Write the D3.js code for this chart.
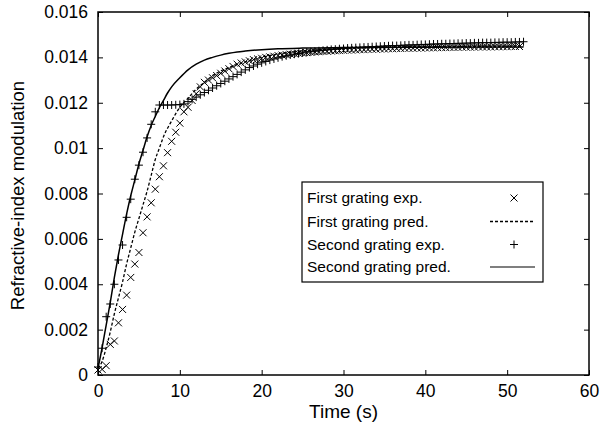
<!DOCTYPE html>
<html lang="en">
<head>
  <meta charset="UTF-8">
  <title>Refractive-index modulation vs time</title>
  <script src="https://d3js.org/d3.v7.min.js"></script>
  <style>
    body { margin: 0; background: #fff; font-family: "Liberation Sans", Arial, sans-serif; }
    svg text { fill: #000; }
  </style>
</head>
<body>
  <svg width="602" height="427"></svg>
  <script>
    // x tick values and y tick labels, as printed on the chart
    const xTicks = [0, 10, 20, 30, 40, 50, 60];
    const yTicks = [0, 0.002, 0.004, 0.006, 0.008, 0.01, 0.012, 0.014, 0.016];
    const yTickLabels = ["0", "0.002", "0.004", "0.006", "0.008", "0.01", "0.012", "0.014", "0.016"];

    // measurements are taken every 0.5 s from t = 0
    const expStep = 0.5;

    // first grating, measured (x marks)
    const firstExp = [
      0.00022, 0.00025, 0.00041, 0.00135, 0.00150, 0.00230, 0.00289, 0.00352, 0.00430, 0.00489,
      0.00540, 0.00627, 0.00697, 0.00759, 0.00819, 0.00874, 0.00922, 0.00980, 0.01030, 0.01070,
      0.01110, 0.01160, 0.01180, 0.01210, 0.01240, 0.01270, 0.01290, 0.01300, 0.01310, 0.01320,
      0.01330, 0.01340, 0.01350, 0.01360, 0.01370, 0.01375, 0.01380, 0.01385, 0.01390, 0.01393,
      0.01396, 0.01400, 0.01402, 0.01405, 0.01408, 0.01410, 0.01412, 0.01414, 0.01416, 0.01418,
      0.01419, 0.01421, 0.01422, 0.01424, 0.01425, 0.01426, 0.01427, 0.01428, 0.01429, 0.01430,
      0.01431, 0.01432, 0.01432, 0.01433, 0.01434, 0.01434, 0.01435, 0.01436, 0.01436, 0.01437,
      0.01437, 0.01438, 0.01438, 0.01439, 0.01439, 0.01440, 0.01440, 0.01440, 0.01441, 0.01441,
      0.01442, 0.01442, 0.01442, 0.01443, 0.01443, 0.01443, 0.01444, 0.01444, 0.01444, 0.01445,
      0.01445, 0.01445, 0.01445, 0.01446, 0.01446, 0.01446, 0.01446, 0.01447, 0.01447, 0.01447,
      0.01447, 0.01448, 0.01448, 0.01448
    ];

    // second grating, measured (+ marks)
    const secondExp = [
      0.00035, 0.00118, 0.00257, 0.00313, 0.00400, 0.00507, 0.00573, 0.00695, 0.00775, 0.00863,
      0.00925, 0.00982, 0.01045, 0.01105, 0.01160, 0.01190, 0.01190, 0.01190, 0.01190, 0.01191,
      0.01192, 0.01195, 0.01205, 0.01215, 0.01225, 0.01235, 0.01245, 0.01255, 0.01265, 0.01275,
      0.01285, 0.01295, 0.01305, 0.01315, 0.01325, 0.01335, 0.01345, 0.01355, 0.01362, 0.01370,
      0.01376, 0.01382, 0.01388, 0.01393, 0.01398, 0.01403, 0.01407, 0.01411, 0.01414, 0.01417,
      0.01420, 0.01423, 0.01425, 0.01427, 0.01429, 0.01431, 0.01433, 0.01435, 0.01436, 0.01438,
      0.01439, 0.01441, 0.01442, 0.01443, 0.01444, 0.01445, 0.01446, 0.01447, 0.01448, 0.01449,
      0.01450, 0.01451, 0.01452, 0.01452, 0.01453, 0.01454, 0.01455, 0.01455, 0.01456, 0.01457,
      0.01457, 0.01458, 0.01459, 0.01459, 0.01460, 0.01460, 0.01461, 0.01461, 0.01462, 0.01462,
      0.01463, 0.01463, 0.01464, 0.01464, 0.01465, 0.01465, 0.01465, 0.01466, 0.01466, 0.01467,
      0.01467, 0.01467, 0.01468, 0.01468, 0.01469
    ];

    // first grating, predicted (dashed line)
    const firstPredT = [0, 0.5, 1, 1.5, 2, 2.5, 3, 3.5, 4, 4.5, 5, 5.5, 6, 6.5, 7, 7.5, 8, 9, 10, 11, 12, 13, 14, 15, 16, 17, 18, 20, 22, 25, 30, 35, 40, 46, 52];
    const firstPredV = [0.0003, 0.0006, 0.0012, 0.0019, 0.0027, 0.0034, 0.0041, 0.0049, 0.0056, 0.0063, 0.0069, 0.0075, 0.0081, 0.0088, 0.0095, 0.0100, 0.0105, 0.0112, 0.0118, 0.0122, 0.0126, 0.0129, 0.0132, 0.0134, 0.01355, 0.01368, 0.0138, 0.0140, 0.01415, 0.01428, 0.0144, 0.01445, 0.01448, 0.01449, 0.0145];

    // second grating, predicted (solid line)
    const secondPredT = [0, 0.5, 1, 1.5, 2, 2.5, 3, 3.5, 4, 4.5, 5, 5.5, 6, 6.5, 7, 7.5, 8, 8.5, 9, 10, 11, 12, 13, 14, 15, 16, 17, 18, 20, 22, 25, 30, 40, 52];
    const secondPredV = [0.0003, 0.0012, 0.0022, 0.0032, 0.0043, 0.0053, 0.0062, 0.0071, 0.0079, 0.0086, 0.0093, 0.0099, 0.0105, 0.0110, 0.0114, 0.01178, 0.0121, 0.01243, 0.0127, 0.0131, 0.01345, 0.0137, 0.01388, 0.0140, 0.0141, 0.01418, 0.01424, 0.01428, 0.01434, 0.01438, 0.01441, 0.01443, 0.01445, 0.01446];

    const legendLabels = ["First grating exp.", "First grating pred.", "Second grating exp.", "Second grating pred."];

    const svg = d3.select("svg");
    const margin = {top: 12, right: 13, bottom: 52, left: 98};
    const width = 602 - margin.left - margin.right;
    const height = 427 - margin.top - margin.bottom;

    const x = d3.scaleLinear().domain([0, 60]).range([0, width]);
    const y = d3.scaleLinear().domain([0, 0.016]).range([height, 0]);

    const g = svg.append("g").attr("transform", `translate(${margin.left},${margin.top})`);

    // axes with inward ticks on all four sides
    const fmtY = d => yTickLabels[yTicks.findIndex(t => Math.abs(t - d) < 1e-9)];
    g.append("g").attr("transform", `translate(0,${height})`)
      .call(d3.axisBottom(x).tickValues(xTicks).tickSizeInner(-5).tickSizeOuter(0).tickPadding(10));
    g.append("g")
      .call(d3.axisLeft(y).tickValues(yTicks).tickFormat(fmtY).tickSizeInner(-5).tickSizeOuter(0).tickPadding(10));
    g.append("g").call(d3.axisTop(x).tickValues(xTicks).tickSizeInner(-5).tickSizeOuter(0).tickFormat(""));
    g.append("g").attr("transform", `translate(${width},0)`)
      .call(d3.axisRight(y).tickValues(yTicks).tickSizeInner(-5).tickSizeOuter(0).tickFormat(""));
    g.selectAll(".domain").remove();
    g.selectAll(".tick line").attr("stroke", "#000").attr("stroke-width", 1);
    g.selectAll(".tick text").style("font-size", "17.5px").style("font-family", "'Liberation Sans', Arial, sans-serif");

    g.append("rect").attr("width", width).attr("height", height)
      .attr("fill", "none").attr("stroke", "#000").attr("stroke-width", 1.5);

    // prediction curves
    const line = d3.line().curve(d3.curveMonotoneX).x(d => x(d[0])).y(d => y(d[1]));
    g.append("path")
      .datum(firstPredT.map((t, i) => [t, firstPredV[i]]))
      .attr("d", line).attr("fill", "none").attr("stroke", "#000")
      .attr("stroke-width", 1.3).attr("stroke-dasharray", "3,2");
    g.append("path")
      .datum(secondPredT.map((t, i) => [t, secondPredV[i]]))
      .attr("d", line).attr("fill", "none").attr("stroke", "#000")
      .attr("stroke-width", 1.5);

    // markers
    const xPath = "M-3.5,-3.5L3.5,3.5M-3.5,3.5L3.5,-3.5";
    const pPath = "M-4,0L4,0M0,-4L0,4";

    g.append("g").selectAll("path")
      .data(firstExp)
      .join("path")
      .attr("transform", (d, i) => `translate(${x(i * expStep)},${y(d)})`)
      .attr("d", xPath).attr("stroke", "#000").attr("stroke-width", 1).attr("fill", "none");

    g.append("g").selectAll("path")
      .data(secondExp)
      .join("path")
      .attr("transform", (d, i) => `translate(${x(i * expStep)},${y(d)})`)
      .attr("d", pPath).attr("stroke", "#000").attr("stroke-width", 1).attr("fill", "none");

    // axis titles
    svg.append("text")
      .attr("x", margin.left + width / 2).attr("y", 418)
      .attr("text-anchor", "middle").style("font-size", "19px")
      .text("Time (s)");
    svg.append("text")
      .attr("transform", `translate(24,${margin.top + height / 2 + 2}) rotate(-90)`)
      .attr("text-anchor", "middle").style("font-size", "18.5px")
      .text("Refractive-index modulation");

    // legend
    const lg = svg.append("g").attr("transform", "translate(302,182)");
    lg.append("rect").attr("width", 241).attr("height", 100)
      .attr("fill", "#fff").attr("stroke", "#000").attr("stroke-width", 1.2);
    const rowY = [16, 39.5, 62.5, 85];
    legendLabels.forEach((lab, i) => {
      lg.append("text").attr("x", 5).attr("y", rowY[i]).attr("dy", "0.35em")
        .style("font-size", "15.5px").text(lab);
    });
    lg.append("path").attr("transform", `translate(212,${rowY[0]})`).attr("d", xPath)
      .attr("stroke", "#000").attr("fill", "none");
    lg.append("line").attr("x1", 188).attr("x2", 233).attr("y1", rowY[1]).attr("y2", rowY[1])
      .attr("stroke", "#000").attr("stroke-width", 1.3).attr("stroke-dasharray", "3,2");
    lg.append("path").attr("transform", `translate(212,${rowY[2]})`).attr("d", pPath)
      .attr("stroke", "#000").attr("fill", "none");
    lg.append("line").attr("x1", 188).attr("x2", 233).attr("y1", rowY[3]).attr("y2", rowY[3])
      .attr("stroke", "#000").attr("stroke-width", 1.2);
  </script>
</body>
</html>
